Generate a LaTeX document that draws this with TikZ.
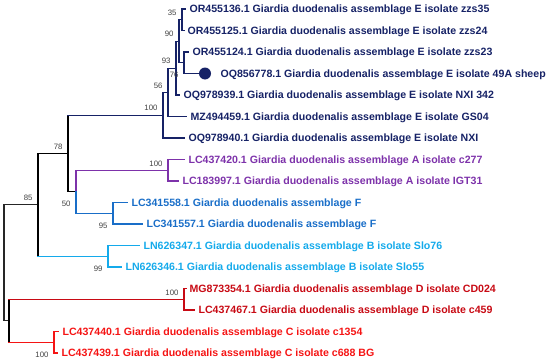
\documentclass[tikz,border=0pt]{standalone}
\usepackage{fontspec}
\setmainfont{Liberation Sans}
\definecolor{navyE}{RGB}{22,34,102}
\definecolor{purpA}{RGB}{125,50,170}
\definecolor{blueF}{RGB}{25,110,200}
\definecolor{skyB}{RGB}{20,170,235}
\definecolor{redD}{RGB}{200,10,20}
\definecolor{redC}{RGB}{245,20,20}
\definecolor{labgray}{RGB}{64,64,64}
\begin{document}
\begin{tikzpicture}[x=1pt,y=-1pt,line width=1.1pt,line cap=rect,
  leaf/.style={anchor=west,inner sep=0pt,font=\fontsize{10.6}{12}\selectfont\bfseries,text height=7.6pt,text depth=0pt},
  bs/.style={inner sep=0pt,font=\fontsize{7.8}{9}\selectfont,text=labgray,text height=5.6pt,text depth=0pt},
  bsup/.style={bs,anchor=south east,xshift=-5pt,yshift=3.7pt},
  bsdn/.style={bs,anchor=north east,xshift=-5pt,yshift=-8.7pt}]
\useasboundingbox (0,0) rectangle (550,364);
% internal nodes
\coordinate (root) at (4,262.8);
\coordinate (n85) at (38,204.9);
\coordinate (n78) at (68,153.5);
\coordinate (nE) at (163,115.2);
\coordinate (n56) at (168,92.3);
\coordinate (n93) at (176,68.1);
\coordinate (n90) at (179,41.25);
\coordinate (n35) at (182,19.75);
\coordinate (n76) at (184,62.75);
\coordinate (n50) at (76,191.75);
\coordinate (nA) at (168,170.25);
\coordinate (nF) at (113,213.25);
\coordinate (nB) at (108,256.25);
\coordinate (nR) at (9,320.75);
\coordinate (nD) at (184,299.25);
\coordinate (nC) at (54,342.25);
% leaves
\node[leaf,text=navyE] (t1) at (189,9) {OR455136.1 Giardia duodenalis assemblage E isolate zzs35};
\node[leaf,text=navyE] (t2) at (187,30.5) {OR455125.1 Giardia duodenalis assemblage E isolate zzs24};
\node[leaf,text=navyE] (t3) at (192,52) {OR455124.1 Giardia duodenalis assemblage E isolate zzs23};
\node[circle,fill=navyE,inner sep=0pt,minimum size=12pt] (dot) at (205,73.5) {};
\node[leaf,text=navyE] (t4) at (220,73.5) {OQ856778.1 Giardia duodenalis assemblage E isolate 49A sheep};
\node[leaf,text=navyE] (t5) at (183,95) {OQ978939.1 Giardia duodenalis assemblage E isolate NXI 342};
\node[leaf,text=navyE] (t6) at (190,116.5) {MZ494459.1 Giardia duodenalis assemblage E isolate GS04};
\node[leaf,text=navyE] (t7) at (188,138) {OQ978940.1 Giardia duodenalis assemblage E isolate NXI};
\node[leaf,text=purpA] (t8) at (188,159.5) {LC437420.1 Giardia duodenalis assemblage A isolate c277};
\node[leaf,text=purpA] (t9) at (182,181) {LC183997.1 Giardia duodenalis assemblage A isolate IGT31};
\node[leaf,text=blueF] (t10) at (131,202.5) {LC341558.1 Giardia duodenalis assemblage F};
\node[leaf,text=blueF] (t11) at (146,224) {LC341557.1 Giardia duodenalis assemblage F};
\node[leaf,text=skyB] (t12) at (143,245.5) {LN626347.1 Giardia duodenalis assemblage B isolate Slo76};
\node[leaf,text=skyB] (t13) at (125,267) {LN626346.1 Giardia duodenalis assemblage B isolate Slo55};
\node[leaf,text=redD] (t14) at (189,288.5) {MG873354.1 Giardia duodenalis assemblage D isolate CD024};
\node[leaf,text=redD] (t15) at (198,310) {LC437467.1 Giardia duodenalis assemblage D isolate c459};
\node[leaf,text=redC] (t16) at (62,331.5) {LC437440.1 Giardia duodenalis assemblage C isolate c1354};
\node[leaf,text=redC] (t17) at (61,353) {LC437439.1 Giardia duodenalis assemblage C isolate c688 BG};
% backbone
\draw[black!85] (root) |- (n85);
\draw[black!85] (root) |- (nR);
\draw (nR |- nD) -- (nR |- nC);
\draw (n85 |- n78) -- (n85 |- nB);
\draw (n85 |- n78) -- (n78);
\draw (n78 |- nE) -- (n78 |- n50);
\draw (n78 |- n50) -- (n50);
% coloured branches
\draw[skyB] (n85 |- nB) -- (nB);
\draw[redD] (nR |- nD) -- (nD);
\draw[redC] (nR |- nC) -- (nC);
\draw[navyE] (n78 |- nE) -- (nE);
\draw[purpA] (n50) |- (nA);
\draw[blueF] (n50) |- (nF);
% E clade
\begin{scope}[navyE]
\draw (nE) |- (n56);
\draw (nE) |- ([xshift=-3.5pt]t7.west);
\draw (n56) |- (n93);
\draw (n56) |- ([xshift=-3.5pt]t6.west);
\draw (n93) |- (n90);
\draw (n93) |- ([xshift=-3.5pt]t5.west);
\draw (n90) |- (n35);
\draw (n90) |- (n76);
\draw (n35) |- ([xshift=-3.5pt]t1.west);
\draw (n35) |- ([xshift=-3pt]t2.west);
\draw (n76) |- ([xshift=-3.5pt]t3.west);
\draw (n76) |- (dot.west);
\end{scope}
\draw[purpA] (nA) |- ([xshift=-4pt]t8.west);
\draw[purpA] (nA) |- ([xshift=-4pt]t9.west);
\draw[blueF] (nF) |- ([xshift=-3.5pt]t10.west);
\draw[blueF] (nF) |- ([xshift=-3.5pt]t11.west);
\draw[skyB] (nB) |- ([xshift=-4pt]t12.west);
\draw[skyB] (nB) |- ([xshift=-4pt]t13.west);
\draw[redD] (nD) |- ([xshift=-3pt]t14.west);
\draw[redD] (nD) |- ([xshift=-3.5pt]t15.west);
\draw[redC] (nC) |- ([xshift=-4pt]t16.west);
\draw[redC] (nC) |- ([xshift=-4pt]t17.west);
% bootstrap values
\node[bsup] (b35) at (n35) {35};
\node[bsup] (b90) at (n90) {90};
\node[bsup] (b93) at (n93) {93};
\node[bsdn] (b76) at (n76) {76};
\node[bsup] (b56) at (n56) {56};
\node[bsup] (bE) at (nE) {100};
\node[bsup] (b78) at (n78) {78};
\node[bsup] (bA) at (nA) {100};
\node[bsdn] (b50) at (n50) {50};
\node[bsdn] (bF) at (nF) {95};
\node[bsup] (b85) at (n85) {85};
\node[bsdn] (bB) at (nB) {99};
\node[bsup] (bD) at (nD) {100};
\node[bsdn] (bC) at (nC) {100};
\end{tikzpicture}
\end{document}
